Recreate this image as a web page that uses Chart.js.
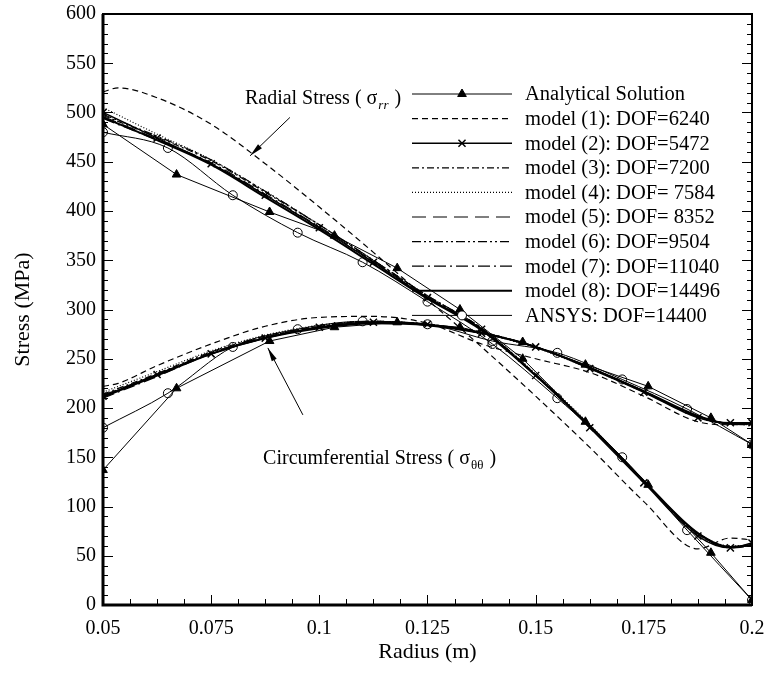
<!DOCTYPE html>
<html>
<head>
<meta charset="utf-8">
<script src="https://cdn.jsdelivr.net/npm/chart.js@4.4.0/dist/chart.umd.min.js"></script>
<style>
  html, body { margin: 0; padding: 0; background: #fff; }
  #wrap { width: 765px; height: 676px; }
</style>
</head>
<body>
<div id="wrap"><canvas id="chart" width="765" height="676"></canvas></div>
<script>
// tick labels
const xTicks = [0.05, 0.075, 0.1, 0.125, 0.15, 0.175, 0.2];
const xTickLabels = ['0.05', '0.075', '0.1', '0.125', '0.15', '0.175', '0.2'];
const yTicks = [0, 50, 100, 150, 200, 250, 300, 350, 400, 450, 500, 550, 600];

const seriesNames = [
  'Analytical Solution',
  'model (1): DOF=6240',
  'model (2): DOF=5472',
  'model (3): DOF=7200',
  'model (4): DOF= 7584',
  'model (5): DOF= 8352',
  'model (6): DOF=9504',
  'model (7): DOF=11040',
  'model (8): DOF=14496',
  'ANSYS: DOF=14400'
];

// radius values (m)
const radiusModels = [0.05, 0.0625, 0.075, 0.0875, 0.1, 0.1125, 0.125, 0.1375, 0.15, 0.1625, 0.175, 0.1875, 0.195, 0.2];
const radiusModel1 = [0.05, 0.0535, 0.0625, 0.075, 0.0875, 0.1, 0.1125, 0.125, 0.1375, 0.15, 0.1625, 0.175, 0.1875, 0.195, 0.2];
const radiusAnalytical = [0.05, 0.067, 0.0885, 0.1035, 0.118, 0.1325, 0.147, 0.1615, 0.176, 0.1905, 0.2];
const radiusAnsys = [0.05, 0.065, 0.08, 0.095, 0.11, 0.125, 0.14, 0.155, 0.17, 0.185, 0.2];

// radial stress (MPa)
const radialAnalytical = [488, 437, 399, 375, 342, 300, 250, 186, 122, 53, 5];
const radialModel1 = [521, 525, 515, 488, 448, 404, 358, 310, 262, 212, 160, 105, 57, 68, 66];
const radialModel2 = [500, 474, 448, 416, 383, 348, 312, 280, 233, 180, 124, 70, 58, 63];
const radialModel3 = [497, 475, 451, 419, 386, 350, 314, 281, 234, 182, 126, 72, 59, 61];
const radialModel4 = [505, 478, 452, 420, 386, 350, 314, 281, 235, 183, 126, 73, 60, 61];
const radialModel5 = [496, 473, 448, 416, 383, 348, 312, 280, 234, 182, 126, 73, 59, 60];
const radialModel6 = [498, 476, 452, 420, 386, 350, 314, 281, 234, 182, 125, 72, 59, 61];
const radialModel7 = [494, 472, 449, 417, 384, 349, 313, 280, 233, 181, 125, 72, 58, 60];
const radialModel8 = [495, 472, 447, 414, 381, 346, 311, 279, 233, 182, 126, 73, 59, 61];
const radialAnsys = [480, 464, 416, 378, 348, 308, 265, 210, 150, 76, 5];

// circumferential stress (MPa)
const circAnalytical = [137, 220, 268, 282, 287, 282, 267, 244, 222, 190, 163];
const circModel1 = [222, 225, 243, 265, 283, 292, 293, 286, 265, 250, 236, 212, 186, 183, 184];
const circModel2 = [212, 234, 255, 271, 282, 287, 285, 276, 262, 240, 216, 190, 185, 185];
const circModel3 = [214, 235, 257, 273, 283, 288, 285, 277, 262, 241, 217, 191, 184, 183];
const circModel4 = [216, 237, 258, 274, 284, 288, 285, 276, 261, 240, 216, 191, 184, 183];
const circModel5 = [213, 234, 256, 272, 282, 287, 284, 276, 262, 241, 217, 191, 184, 184];
const circModel6 = [212, 234, 256, 272, 283, 288, 285, 277, 262, 241, 217, 191, 184, 184];
const circModel7 = [210, 232, 255, 271, 282, 287, 284, 276, 262, 241, 217, 191, 184, 183];
const circModel8 = [211, 233, 255, 271, 281, 286, 284, 276, 262, 241, 217, 192, 184, 184];
const circAnsys = [180, 215, 262, 280, 288, 285, 268, 256, 229, 199, 163];

const FONT = "'Liberation Serif', 'Times New Roman', serif";

// both curves of one series in one dataset, split by a gap
function curves(xs, radial, circ) {
  const pts = xs.map((x, i) => ({ x: x, y: radial[i] }));
  pts.push({ x: 0.2, y: null });
  return pts.concat(xs.map((x, i) => ({ x: x, y: circ[i] })));
}

function series(label, data, style) {
  return Object.assign({
    label: label,
    data: data,
    borderColor: '#000',
    backgroundColor: '#000',
    borderWidth: 1.2,
    pointRadius: 0,
    tension: 0,
    cubicInterpolationMode: 'monotone',
    spanGaps: false
  }, style);
}

const datasets = [
  series(seriesNames[0], curves(radiusAnalytical, radialAnalytical, circAnalytical),
    { cubicInterpolationMode: 'default', borderWidth: 1, pointStyle: 'triangle', pointRadius: 5 }),
  series(seriesNames[1], curves(radiusModel1, radialModel1, circModel1), { borderDash: [6, 4] }),
  series(seriesNames[2], curves(radiusModels, radialModel2, circModel2),
    { pointStyle: 'crossRot', pointRadius: 5, pointBorderWidth: 1.5, borderWidth: 1.4 }),
  series(seriesNames[3], curves(radiusModels, radialModel3, circModel3), { borderDash: [7, 3, 2, 3] }),
  series(seriesNames[4], curves(radiusModels, radialModel4, circModel4), { borderDash: [1, 2] }),
  series(seriesNames[5], curves(radiusModels, radialModel5, circModel5), { borderDash: [14, 7] }),
  series(seriesNames[6], curves(radiusModels, radialModel6, circModel6), { borderDash: [9, 3, 2, 3, 2, 3] }),
  series(seriesNames[7], curves(radiusModels, radialModel7, circModel7), { borderDash: [12, 4, 2, 4] }),
  series(seriesNames[8], curves(radiusModels, radialModel8, circModel8), { borderWidth: 2 }),
  series(seriesNames[9], curves(radiusAnsys, radialAnsys, circAnsys),
    { borderWidth: 1, pointStyle: 'circle', pointRadius: 4.5, pointBorderWidth: 1, backgroundColor: 'rgba(0,0,0,0)' })
];

function drawMarker(ctx, ds, x, y) {
  if (!ds.pointRadius) return;
  ctx.save();
  ctx.setLineDash([]);
  ctx.lineWidth = ds.pointBorderWidth || 1;
  ctx.strokeStyle = '#000';
  ctx.fillStyle = ds.pointStyle === 'circle' ? '#fff' : '#000';
  Chart.helpers.drawPoint(ctx, { pointStyle: ds.pointStyle, radius: ds.pointRadius, borderWidth: ctx.lineWidth }, x, y);
  ctx.restore();
}

// frame, inward ticks, legend and labels
const decorations = {
  id: 'decorations',
  afterDatasetsDraw(chart) {
    const ctx = chart.ctx;
    const a = chart.chartArea;
    const xs = chart.scales.x, ys = chart.scales.y;
    ctx.save();
    ctx.strokeStyle = '#000';
    ctx.setLineDash([]);

    // minor / major ticks
    ctx.lineWidth = 1;
    for (let v = 0; v <= 600; v += 10) {
      const p = Math.round(ys.getPixelForValue(v)) + 0.5;
      const len = v % 50 === 0 ? 10 : 5;
      ctx.beginPath();
      ctx.moveTo(a.left, p); ctx.lineTo(a.left + len, p);
      ctx.moveTo(a.right, p); ctx.lineTo(a.right - len, p);
      ctx.stroke();
    }
    for (let k = 0; k <= 24; k++) {
      const v = 0.05 + k * 0.00625;
      const p = Math.round(xs.getPixelForValue(v)) + 0.5;
      const len = k % 4 === 0 ? 10 : 6;
      ctx.beginPath();
      ctx.moveTo(p, a.bottom); ctx.lineTo(p, a.bottom - len);
      ctx.stroke();
    }

    // frame
    ctx.lineWidth = 2;
    ctx.strokeRect(a.left, a.top, a.right - a.left, a.bottom - a.top);
    ctx.lineWidth = 3;
    ctx.beginPath();
    ctx.moveTo(a.left, a.top); ctx.lineTo(a.left, a.bottom); ctx.lineTo(a.right, a.bottom);
    ctx.stroke();

    // legend
    ctx.font = '20.5px ' + FONT;
    ctx.fillStyle = '#000';
    ctx.textBaseline = 'middle';
    ctx.textAlign = 'left';
    chart.data.datasets.forEach((ds, i) => {
      const y = 94 + i * 24.6;
      ctx.save();
      ctx.lineWidth = ds.borderWidth;
      ctx.setLineDash(ds.borderDash || []);
      ctx.beginPath();
      ctx.moveTo(412, y); ctx.lineTo(512, y);
      ctx.stroke();
      ctx.restore();
      drawMarker(ctx, ds, 462, y);
      ctx.fillText(ds.label, 525, y + 1);
    });

    // curve labels
    function label(vx, vy, head, sub, italic) {
      let x = xs.getPixelForValue(vx);
      const y = ys.getPixelForValue(vy);
      ctx.textBaseline = 'alphabetic';
      ctx.font = '20px ' + FONT;
      ctx.fillText(head, x, y); x += ctx.measureText(head).width;
      ctx.fillText('\u03c3', x, y); x += ctx.measureText('\u03c3').width;
      ctx.font = (italic ? 'italic ' : '') + '13px ' + FONT;
      ctx.fillText(sub, x + 1, y + 5); x += ctx.measureText(sub).width + 2;
      ctx.font = '20px ' + FONT;
      ctx.fillText(' )', x, y);
    }
    label(0.0828, 509, 'Radial Stress ( ', 'rr', true);
    label(0.087, 143, 'Circumferential Stress ( ', '\u03b8\u03b8', false);

    // arrows
    function arrow(x0, y0, x1, y1) {
      const px0 = xs.getPixelForValue(x0), py0 = ys.getPixelForValue(y0);
      const px1 = xs.getPixelForValue(x1), py1 = ys.getPixelForValue(y1);
      const ang = Math.atan2(py1 - py0, px1 - px0);
      ctx.lineWidth = 1;
      ctx.beginPath();
      ctx.moveTo(px0, py0); ctx.lineTo(px1, py1);
      ctx.stroke();
      ctx.beginPath();
      ctx.moveTo(px1, py1);
      ctx.lineTo(px1 - 14 * Math.cos(ang - 0.2), py1 - 14 * Math.sin(ang - 0.2));
      ctx.lineTo(px1 - 14 * Math.cos(ang + 0.2), py1 - 14 * Math.sin(ang + 0.2));
      ctx.closePath();
      ctx.fill();
    }
    arrow(0.0932, 495, 0.084, 456);
    arrow(0.0962, 193, 0.0881, 261);

    ctx.restore();
  }
};

new Chart(document.getElementById('chart'), {
  type: 'line',
  data: { datasets: datasets },
  options: {
    responsive: false,
    animation: false,
    events: [],
    layout: { padding: { left: 0, right: 13, top: 14, bottom: 0 } },
    plugins: { legend: { display: false }, tooltip: { enabled: false } },
    scales: {
      x: {
        type: 'linear',
        min: 0.05,
        max: 0.2,
        afterBuildTicks: s => { s.ticks = xTicks.map(v => ({ value: v })); },
        afterFit: s => { s.height = 71; s.paddingLeft = 0; s.paddingRight = 0; },
        grid: { display: false, drawTicks: false },
        border: { display: false },
        ticks: {
          autoSkip: false,
          maxRotation: 0,
          padding: 12,
          color: '#000',
          font: { family: FONT, size: 20 },
          callback: (v, i) => xTickLabels[i]
        },
        title: { display: true, text: 'Radius (m)', color: '#000', font: { family: FONT, size: 22 }, padding: { top: 0, bottom: 11 } }
      },
      y: {
        type: 'linear',
        min: 0,
        max: 600,
        afterBuildTicks: s => { s.ticks = yTicks.map(v => ({ value: v })); },
        afterFit: s => { s.width = 103; s.paddingTop = 0; s.paddingBottom = 0; },
        grid: { display: false, drawTicks: false },
        border: { display: false },
        ticks: {
          autoSkip: false,
          padding: 7,
          color: '#000',
          font: { family: FONT, size: 20 },
          callback: v => String(v)
        },
        title: { display: true, text: 'Stress (MPa)', color: '#000', font: { family: FONT, size: 22 }, padding: { top: 10, bottom: 0 } }
      }
    }
  },
  plugins: [decorations]
});
</script>
</body>
</html>
